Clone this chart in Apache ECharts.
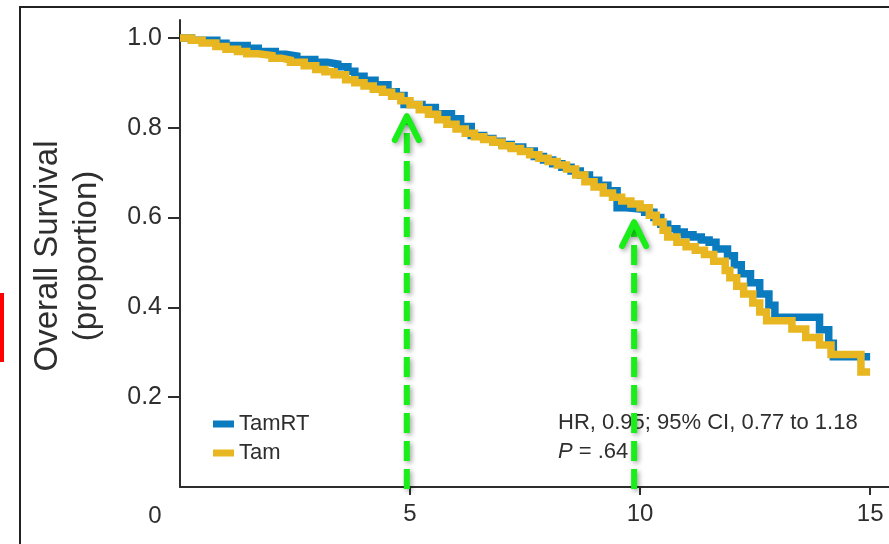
<!DOCTYPE html>
<html>
<head>
<meta charset="utf-8">
<script src="https://cdn.jsdelivr.net/npm/echarts@6/dist/echarts.min.js"></script>
<style>
html,body{margin:0;padding:0;background:#fff;}
#chart{width:889px;height:544px;}
</style>
</head>
<body>
<div id="chart"></div>
<script>
// ---- data ----
var seriesNames = ['TamRT', 'Tam'];
var tamrtTimes = [0, 0.25, 0.8, 1.0, 1.46, 1.7, 2.07, 2.3, 2.54, 2.93, 3.2, 3.43, 3.65, 3.8, 4.0, 4.24, 4.52, 4.7, 4.87, 5.26, 5.55, 5.9, 6.1, 6.33, 6.6, 6.8, 7.0, 7.2, 7.45, 7.7, 7.9, 8.1, 8.3, 8.5, 8.7, 8.9, 9.1, 9.3, 9.5, 9.7, 10.1, 10.3, 10.45, 10.6, 10.8, 10.96, 11.15, 11.33, 11.5, 11.65, 11.9, 12.05, 12.2, 12.4, 12.6, 12.8, 12.93, 13.9, 14.1, 14.2, 15.0];
var tamrtSurv  = [1.0, 0.995, 0.988, 0.983, 0.977, 0.970, 0.964, 0.960, 0.952, 0.946, 0.942, 0.936, 0.926, 0.915, 0.906, 0.896, 0.880, 0.872, 0.852, 0.845, 0.831, 0.820, 0.803, 0.783, 0.776, 0.770, 0.763, 0.757, 0.748, 0.736, 0.728, 0.720, 0.712, 0.704, 0.695, 0.683, 0.672, 0.660, 0.622, 0.618, 0.612, 0.600, 0.585, 0.575, 0.568, 0.562, 0.557, 0.550, 0.545, 0.530, 0.515, 0.495, 0.475, 0.455, 0.430, 0.405, 0.378, 0.350, 0.320, 0.290, 0.290];
var tamTimes = [0, 0.25, 0.48, 0.78, 1.0, 1.25, 1.45, 1.7, 2.0, 2.2, 2.4, 2.7, 2.95, 3.15, 3.35, 3.6, 3.8, 4.0, 4.2, 4.4, 4.6, 4.8, 5.0, 5.2, 5.4, 5.6, 5.8, 6.0, 6.2, 6.4, 6.6, 6.8, 7.0, 7.2, 7.4, 7.6, 7.8, 8.0, 8.2, 8.4, 8.6, 8.8, 9.0, 9.2, 9.4, 9.6, 9.8, 10.0, 10.2, 10.35, 10.5, 10.6, 10.8, 11.0, 11.2, 11.4, 11.6, 11.85, 11.95, 12.1, 12.25, 12.45, 12.6, 12.75, 13.3, 13.6, 13.9, 14.15, 14.8, 15.0];
var tamSurv  = [1.0, 0.995, 0.989, 0.981, 0.975, 0.970, 0.965, 0.961, 0.955, 0.951, 0.946, 0.938, 0.930, 0.925, 0.918, 0.907, 0.900, 0.893, 0.886, 0.879, 0.870, 0.860, 0.851, 0.840, 0.830, 0.818, 0.808, 0.797, 0.788, 0.780, 0.774, 0.768, 0.760, 0.754, 0.747, 0.740, 0.732, 0.725, 0.717, 0.708, 0.695, 0.680, 0.668, 0.655, 0.645, 0.637, 0.630, 0.622, 0.605, 0.590, 0.572, 0.557, 0.545, 0.535, 0.527, 0.518, 0.503, 0.482, 0.466, 0.447, 0.430, 0.410, 0.390, 0.370, 0.352, 0.333, 0.316, 0.295, 0.256, 0.256];
var xTicks = [5, 10, 15];
var yTicks = [0.2, 0.4, 0.6, 0.8, 1.0];
var originLabel = '0';
var yTitle = ['Overall Survival', '(proportion)'];
var hrText = 'HR, 0.95; 95% CI, 0.77 to 1.18';
var pText = ['P', ' = .64'];
// annotation arrows (time, survival at arrow tip)
var arrowX = [4.93, 9.87];
var arrowY = [0.826, 0.59];

function pairs(xs, ys) { return xs.map(function (x, i) { return [x, ys[i]]; }); }

var TXT = '#2e2e2e';
var BLUE = '#0b7bc0';
var YELLOW = '#e8b620';
var GREEN = '#19ee19';
var FONT = "'Liberation Sans', Arial, sans-serif";

var chart = echarts.init(document.getElementById('chart'), null, {renderer: 'canvas'});
chart.setOption({
  animation: false,
  backgroundColor: '#fff',
  grid: {left: 180, right: 0, top: 20, bottom: 57, containLabel: false},
  xAxis: {
    type: 'value', min: 0, max: 15.41, interval: 5,
    axisLine: {lineStyle: {color: TXT, width: 2}},
    axisTick: {show: true, length: 8, customValues: xTicks, lineStyle: {color: TXT, width: 2}},
    axisLabel: {customValues: xTicks, margin: 15, fontSize: 24, color: TXT, fontFamily: FONT},
    splitLine: {show: false}
  },
  yAxis: {
    type: 'value', min: 0, max: 1.04, interval: 0.2,
    axisLine: {show: true, lineStyle: {color: TXT, width: 2}},
    axisTick: {show: true, length: 12, customValues: yTicks, lineStyle: {color: TXT, width: 2}},
    axisLabel: {customValues: yTicks, margin: 18, fontSize: 25, color: TXT, fontFamily: FONT,
      formatter: function (v) { return v.toFixed(1); }},
    splitLine: {show: false}
  },
  legend: {
    data: seriesNames, orient: 'vertical', left: 208, top: 408, itemGap: 7,
    itemWidth: 21, itemHeight: 7, icon: 'rect',
    textStyle: {fontSize: 22, color: TXT, fontFamily: FONT}
  },
  graphic: [
    {type: 'rect', z: 100, shape: {x: 20, y: 7, width: 900, height: 600}, style: {fill: 'none', stroke: '#222', lineWidth: 2}},
    {type: 'rect', z: 100, shape: {x: 0, y: 293, width: 4, height: 69}, style: {fill: '#ff0000'}},
    {type: 'text', z: 100, x: 67, y: 256, rotation: Math.PI / 2,
      style: {text: yTitle.join('\n'), fontSize: 33, lineHeight: 39, fill: TXT,
        fontFamily: FONT, align: 'center', verticalAlign: 'middle'}},
    {type: 'text', z: 0, x: 155, y: 516, style: {text: originLabel, fontSize: 24, fill: TXT, fontFamily: FONT, align: 'center', verticalAlign: 'middle'}},
    {type: 'text', z: 0, x: 558, y: 423, style: {text: hrText, fontSize: 22, fill: TXT, fontFamily: FONT, align: 'left', verticalAlign: 'middle'}},
    {type: 'text', z: 0, x: 558, y: 452, style: {
      text: '{i|' + pText[0] + '}' + pText[1], fontSize: 22, fill: TXT, fontFamily: FONT, align: 'left', verticalAlign: 'middle',
      rich: {i: {fontStyle: 'italic', fontSize: 22, fill: TXT, fontFamily: FONT}}}}
  ],
  series: [
    {name: seriesNames[0], type: 'line', step: 'end', showSymbol: false, symbol: 'none',
      data: pairs(tamrtTimes, tamrtSurv), color: BLUE, z: 3,
      lineStyle: {color: BLUE, width: 7.5, join: 'miter', cap: 'butt'}},
    {name: seriesNames[1], type: 'line', step: 'end', showSymbol: false, symbol: 'none',
      data: pairs(tamTimes, tamSurv), color: YELLOW, z: 4,
      lineStyle: {color: YELLOW, width: 7.5, join: 'miter', cap: 'butt'}},
    {name: 'arrows', type: 'custom', coordinateSystem: 'cartesian2d', clip: false, z: 20, silent: true,
      data: pairs(arrowX, arrowY),
      renderItem: function (params, api) {
        var tip = api.coord([api.value(0), api.value(1)]);
        var base = api.coord([api.value(0), 0]);
        var sh = {shadowBlur: 5, shadowColor: 'rgba(0,0,0,0.35)', shadowOffsetX: 2, shadowOffsetY: 2};
        return {type: 'group', children: [
          {type: 'line', shape: {x1: tip[0], y1: base[1] + 2, x2: tip[0], y2: tip[1] + 3},
            style: Object.assign({stroke: GREEN, lineWidth: 6, lineDash: [20, 8], fill: null}, sh)},
          {type: 'polyline', shape: {points: [[tip[0] - 12, tip[1] + 24], [tip[0], tip[1]], [tip[0] + 12, tip[1] + 24]]},
            style: Object.assign({stroke: GREEN, lineWidth: 6, fill: null, lineCap: 'round', lineJoin: 'round'}, sh)}
        ]};
      }}
  ]
});
</script>
</body>
</html>
